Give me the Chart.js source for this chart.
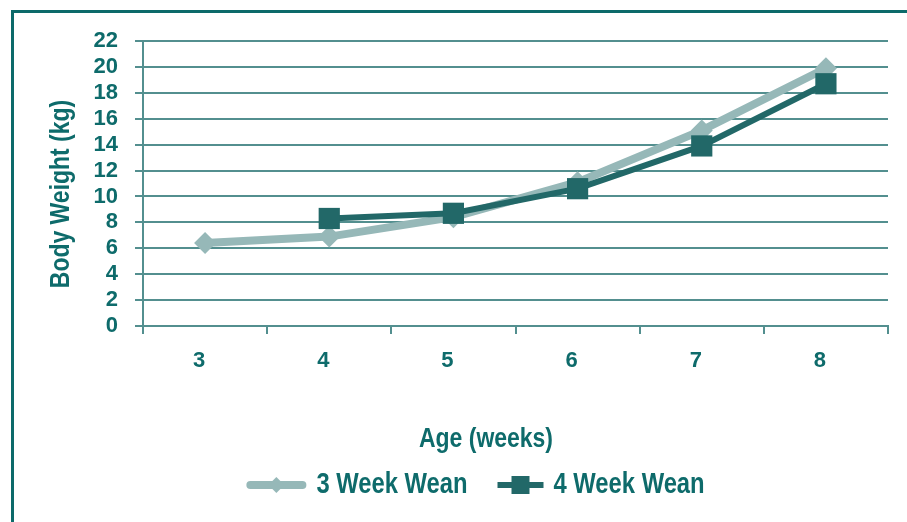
<!DOCTYPE html>
<html>
<head>
<meta charset="utf-8">
<script src="https://cdn.jsdelivr.net/npm/chart.js@4"></script>
<style>
  html, body { margin: 0; padding: 0; background: #ffffff; }
  #wrap { position: relative; width: 907px; height: 522px; overflow: hidden; }
  #frame { position: absolute; left: 11px; top: 10px; width: 1000px; height: 600px;
           border-left: 3px solid #0c6a6a; border-top: 3px solid #0c6a6a; }
  canvas { position: absolute; left: 0; top: 0; }
</style>
</head>
<body>
<div id="wrap">
  <div id="frame"></div>
  <canvas id="c" width="907" height="522"></canvas>
</div>
<script>
// Age in weeks (categories)
const ages = ['3', '4', '5', '6', '7', '8'];
// Body weight (kg) by weaning age
const wean3 = [6.4, 6.9, 8.4, 11.1, 15.1, 19.9];
const wean4 = [null, 8.3, 8.7, 10.6, 13.9, 18.7];
// Y axis range and step
const yMin = 0, yMax = 22, yStep = 2;
const seriesNames = ['3 Week Wean', '4 Week Wean'];

const TEXT = '#0e6b6b';
const GRID = '#538f8f';
const LIGHT = '#96b8b8';
const DARK = '#226868';
const FONT = '"Liberation Sans", Arial, sans-serif';
const SQUEEZE = 0.82; // horizontal condensing for title and legend text

// Draw condensed bold text at (x, y)
function condensedText(ctx, text, x, y, size, align) {
  ctx.save();
  ctx.font = 'bold ' + size + 'px ' + FONT;
  ctx.textAlign = align;
  ctx.textBaseline = 'middle';
  ctx.translate(x, y);
  ctx.scale(SQUEEZE, 1);
  ctx.fillText(text, 0, 0);
  ctx.restore();
}
function condensedWidth(ctx, text, size) {
  ctx.save();
  ctx.font = 'bold ' + size + 'px ' + FONT;
  const w = ctx.measureText(text).width * SQUEEZE;
  ctx.restore();
  return w;
}

// Axis titles and a line+marker legend below the plot
const decorations = {
  id: 'decorations',
  afterDraw(chart) {
    const { ctx, chartArea: a } = chart;
    ctx.save();
    ctx.fillStyle = TEXT;
    condensedText(ctx, 'Age (weeks)', a.left + 343, a.bottom + 113, 28, 'center');
    ctx.save();
    ctx.translate(a.left - 82, a.top + 153);
    ctx.rotate(-Math.PI / 2);
    condensedText(ctx, 'Body Weight (kg)', 0, 0, 28, 'center');
    ctx.restore();

    // legend
    const items = chart.data.datasets.map((ds, i) => ({
      name: ds.label, color: ds.borderColor, lineW: i === 0 ? 8 : 6,
      shape: ds.pointStyle, size: i === 0 ? 8 : 9, lineLen: i === 0 ? 60 : 46
    }));
    const size = 29, gapText = 10, gapItem = 30;
    let total = 0;
    items.forEach((it, i) => {
      it.textW = condensedWidth(ctx, it.name, size);
      total += it.lineLen + gapText + it.textW + (i ? gapItem : 0);
    });
    const cy = a.bottom + 159;
    let x = (a.left + a.right) / 2 - 40 - total / 2;
    items.forEach(it => {
      ctx.strokeStyle = it.color;
      ctx.fillStyle = it.color;
      ctx.lineWidth = it.lineW;
      ctx.lineCap = it.shape === 'rectRot' ? 'round' : 'butt';
      ctx.beginPath();
      const inset = it.shape === 'rectRot' ? it.lineW / 2 : 0;
      ctx.moveTo(x + inset, cy); ctx.lineTo(x + it.lineLen - inset, cy);
      ctx.stroke();
      const mx = x + it.lineLen / 2, s = it.size;
      ctx.beginPath();
      if (it.shape === 'rectRot') {
        ctx.moveTo(mx, cy - s); ctx.lineTo(mx + s, cy); ctx.lineTo(mx, cy + s); ctx.lineTo(mx - s, cy);
      } else {
        ctx.rect(mx - s, cy - s, 2 * s, 2 * s);
      }
      ctx.closePath(); ctx.fill();
      ctx.fillStyle = TEXT;
      condensedText(ctx, it.name, x + it.lineLen + gapText, cy, size, 'left');
      x += it.lineLen + gapText + it.textW + gapItem;
    });
    ctx.restore();
  }
};

new Chart(document.getElementById('c'), {
  type: 'line',
  data: {
    labels: ages,
    datasets: [
      {
        label: seriesNames[0], data: wean3, order: 1,
        borderColor: LIGHT, backgroundColor: LIGHT, borderWidth: 8,
        pointStyle: 'rectRot', pointRadius: 11, pointBorderWidth: 0,
        pointBackgroundColor: LIGHT, tension: 0
      },
      {
        label: seriesNames[1], data: wean4, order: 0,
        borderColor: DARK, backgroundColor: DARK, borderWidth: 6,
        pointStyle: 'rect', pointRadius: 15, pointBorderWidth: 0,
        pointBackgroundColor: DARK, tension: 0
      }
    ]
  },
  options: {
    responsive: false,
    animation: false,
    devicePixelRatio: 1,
    layout: { padding: { left: 62, right: 19, top: 41, bottom: 0 } },
    plugins: {
      tooltip: { enabled: false },
      legend: { display: false }
    },
    scales: {
      x: {
        offset: true,
        grid: { offset: true, drawOnChartArea: false, drawTicks: true, tickLength: 8, color: GRID, lineWidth: 2 },
        border: { color: GRID, width: 2 },
        ticks: { color: TEXT, font: { family: FONT, size: 22, weight: 'bold' }, padding: 14, labelOffset: -6 },
        afterFit(scale) { scale.height = 196; }
      },
      y: {
        min: yMin, max: yMax,
        grid: { color: GRID, lineWidth: 2, tickLength: 8 },
        border: { color: GRID, width: 2 },
        ticks: { stepSize: yStep, autoSkip: false, color: TEXT, font: { family: FONT, size: 22, weight: 'bold' }, padding: 17 },
        afterFit(scale) { scale.width = 81; }
      }
    }
  },
  plugins: [decorations]
});
</script>
</body>
</html>
